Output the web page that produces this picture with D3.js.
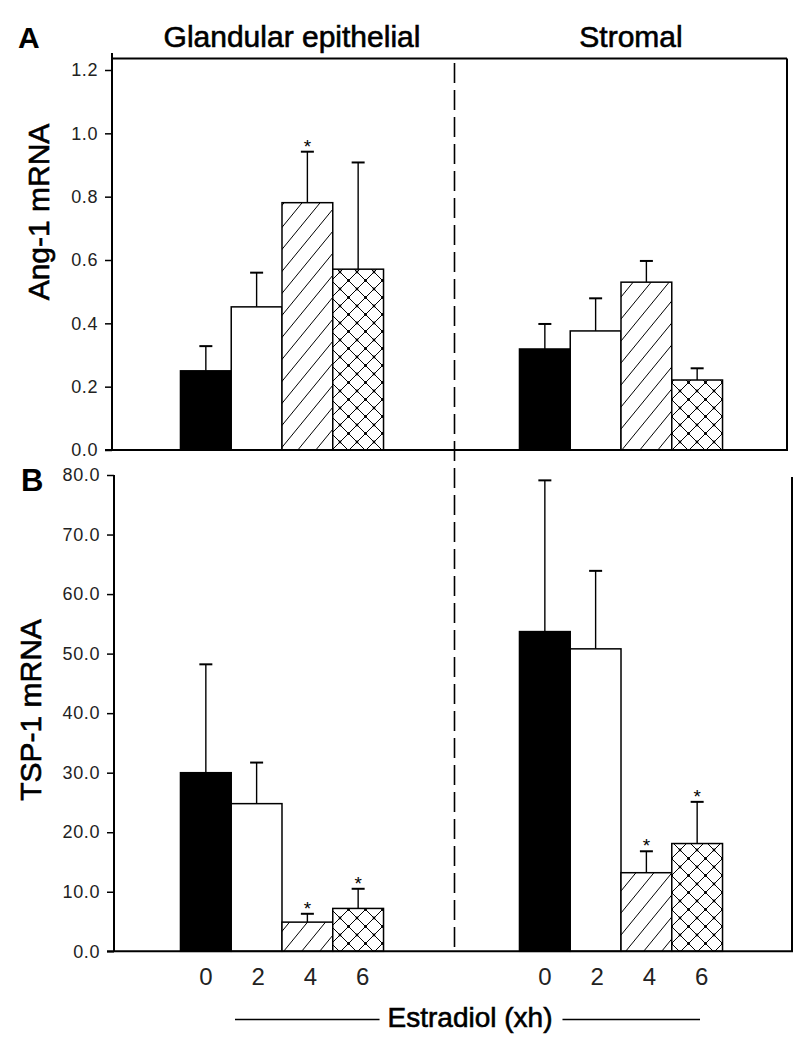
<!DOCTYPE html>
<html>
<head>
<meta charset="utf-8">
<script src="https://cdn.jsdelivr.net/npm/d3@7"></script>
<style>
  html, body { margin: 0; padding: 0; background: #fff; }
  svg { display: block; }
  text { font-family: "Liberation Sans", Arial, Helvetica, sans-serif; }
</style>
</head>
<body>
<svg id="chart" width="800" height="1050"></svg>
<script>
// ---------------- data ----------------
const groups = ["Glandular epithelial", "Stromal"];
const times = ["0", "2", "4", "6"];
const xAxisTitle = "Estradiol (xh)";

const ang1Gland     = [0.250, 0.452, 0.781, 0.571];
const ang1GlandErr  = [0.078, 0.108, 0.161, 0.337];
const ang1GlandSig  = [false, false, true, false];
const ang1Strom     = [0.319, 0.376, 0.530, 0.221];
const ang1StromErr  = [0.079, 0.103, 0.067, 0.037];
const ang1StromSig  = [false, false, false, false];

const tsp1Gland     = [30.0, 24.8, 4.9, 7.2];
const tsp1GlandErr  = [18.2, 6.9, 1.4, 3.3];
const tsp1GlandSig  = [false, false, true, true];
const tsp1Strom     = [53.7, 50.8, 13.2, 18.1];
const tsp1StromErr  = [25.4, 13.1, 3.6, 7.0];
const tsp1StromSig  = [false, false, true, true];

const ticksA = [0, 0.2, 0.4, 0.6, 0.8, 1.0, 1.2];
const ticksB = [0, 10, 20, 30, 40, 50, 60, 70, 80];

// ---------------- setup ----------------
const svg = d3.select("#chart");
const defs = svg.append("defs");

// diagonal hatch "/"
const dw = 18, dh = 22;
const pDiag = defs.append("pattern").attr("id", "diag")
  .attr("patternUnits", "userSpaceOnUse").attr("width", dw).attr("height", dh);
pDiag.append("rect").attr("width", dw).attr("height", dh).attr("fill", "#fff");
pDiag.append("path")
  .attr("d", `M0,${dh} L${dw},0 M${-dw},${dh} L0,0 M${dw},${dh} L${2*dw},0`)
  .attr("stroke", "#000").attr("stroke-width", 1);

// cross hatch with dots
const cs = 17;
const pCross = defs.append("pattern").attr("id", "cross")
  .attr("patternUnits", "userSpaceOnUse").attr("width", cs).attr("height", cs);
pCross.append("rect").attr("width", cs).attr("height", cs).attr("fill", "#fff");
pCross.append("path").attr("d", `M0,0 L${cs},${cs} M0,${cs} L${cs},0`)
  .attr("stroke", "#000").attr("stroke-width", 1);
[[cs/2, cs/2], [0, 0], [cs, 0], [0, cs], [cs, cs]].forEach(([cx, cy]) =>
  pCross.append("circle").attr("cx", cx).attr("cy", cy).attr("r", 1.4).attr("fill", "#000"));

const fills = ["#000", "#fff", "url(#diag)", "url(#cross)"];

// x scales
const xGroup = d3.scaleBand().domain(groups).range([113, 790])
  .paddingInner(0.401).paddingOuter(0.199);
const xTime = d3.scaleBand().domain(times).range([0, xGroup.bandwidth()]).padding(0);

// y scales
const yA = d3.scaleLinear().domain([0, 1.2]).range([450, 70]);
const yB = d3.scaleLinear().domain([0, 80]).range([951.3, 475]);

function drawBars(y, series) {
  series.forEach(s => {
    const g = svg.append("g");
    times.forEach((t, i) => {
      const x0 = xGroup(s.group) + xTime(t);
      const bw = xTime.bandwidth();
      const cx = x0 + bw / 2;
      const top = y(s.vals[i]);
      const etop = y(s.vals[i] + s.err[i]);
      g.append("line").attr("x1", cx).attr("x2", cx).attr("y1", top).attr("y2", etop)
        .attr("stroke", "#000").attr("stroke-width", 1.4);
      g.append("line").attr("x1", cx - 6.5).attr("x2", cx + 6.5).attr("y1", etop).attr("y2", etop)
        .attr("stroke", "#000").attr("stroke-width", 2);
      g.append("rect").attr("x", x0).attr("y", top).attr("width", bw)
        .attr("height", y(0) - top).attr("fill", fills[i])
        .attr("stroke", "#000").attr("stroke-width", 1.5);
      if (s.sig[i]) {
        g.append("text").attr("x", cx).attr("y", etop + 1).attr("text-anchor", "middle")
          .attr("font-size", 19).attr("fill", "#000").text("*");
      }
    });
  });
}

drawBars(yA, [
  { group: groups[0], vals: ang1Gland, err: ang1GlandErr, sig: ang1GlandSig },
  { group: groups[1], vals: ang1Strom, err: ang1StromErr, sig: ang1StromSig }
]);
drawBars(yB, [
  { group: groups[0], vals: tsp1Gland, err: tsp1GlandErr, sig: tsp1GlandSig },
  { group: groups[1], vals: tsp1Strom, err: tsp1StromErr, sig: tsp1StromSig }
]);

function styleAxis(g) {
  g.select(".domain").remove();
  g.selectAll(".tick line").attr("stroke", "#000").attr("stroke-width", 1.5);
  g.selectAll(".tick text").attr("font-size", 18).attr("fill", "#222")
    .attr("letter-spacing", "0.6px")
    .style("font-family", "'Liberation Sans', Arial, sans-serif");
}

// Panel A axes & frame
const axA = svg.append("g").attr("transform", "translate(112,0)")
  .call(d3.axisLeft(yA).tickValues(ticksA).tickFormat(d3.format(".1f")).tickSize(7).tickPadding(7));
styleAxis(axA);
const lineA = (x1, y1, x2, y2) => svg.append("line").attr("x1", x1).attr("y1", y1)
  .attr("x2", x2).attr("y2", y2).attr("stroke", "#000").attr("stroke-width", 2);
lineA(112, 53, 112, yA(0));
lineA(112, 58.5, 787, 58.5);
lineA(787, 58.5, 787, yA(0));
lineA(105, yA(0), 788, yA(0));

// Panel B axes & frame
const axB = svg.append("g").attr("transform", "translate(114,0)")
  .call(d3.axisLeft(yB).tickValues(ticksB).tickFormat(d3.format(".1f")).tickSize(7).tickPadding(7));
styleAxis(axB);
lineA(114, yB(80), 114, yB(0));
lineA(792, yB(80) + 2, 792, yB(0));
lineA(107, yB(0), 793, yB(0));

// dashed divider
const divX = (xGroup(groups[0]) + xGroup.bandwidth() + xGroup(groups[1])) / 2 + 3;
svg.append("line").attr("x1", divX).attr("x2", divX).attr("y1", 63).attr("y2", yB(0))
  .attr("stroke", "#000").attr("stroke-width", 1.6).attr("stroke-dasharray", "20,7");

const heavy = sel => sel.attr("fill", "#000").attr("stroke", "#000").attr("stroke-width", 0.6);

// group titles
groups.forEach(gname => {
  svg.append("text").attr("x", xGroup(gname) + xGroup.bandwidth() / 2 + 10)
    .attr("y", 47).attr("text-anchor", "middle").attr("font-size", 30)
    .call(heavy).text(gname);
});

// panel letters
svg.append("text").attr("x", 18).attr("y", 48).attr("font-size", 30)
  .attr("font-weight", "bold").text("A");
svg.append("text").attr("x", 21).attr("y", 491).attr("font-size", 31)
  .attr("font-weight", "bold").text("B");

// y titles
svg.append("text").attr("transform", "translate(49,212) rotate(-90)")
  .attr("text-anchor", "middle").attr("font-size", 30).call(heavy).text("Ang-1 mRNA");
svg.append("text").attr("transform", "translate(41,710) rotate(-90)")
  .attr("text-anchor", "middle").attr("font-size", 30).call(heavy).text("TSP-1 mRNA");

// x tick labels
groups.forEach(gname => {
  times.forEach((t, i) => {
    svg.append("text").attr("x", xGroup(gname) + xTime(t) + xTime.bandwidth() / 2 + i * 1.5)
      .attr("y", 985).attr("text-anchor", "middle").attr("font-size", 24)
      .attr("fill", "#222").text(t);
  });
});

// x title with lines
const xt = svg.append("text").attr("x", 470).attr("y", 1027).attr("text-anchor", "middle")
  .attr("font-size", 28).call(heavy).text(xAxisTitle);
const bb = xt.node().getBBox();
svg.append("line").attr("x1", 235).attr("x2", bb.x - 8).attr("y1", 1019.5).attr("y2", 1019.5)
  .attr("stroke", "#000").attr("stroke-width", 1.5);
svg.append("line").attr("x1", bb.x + bb.width + 10).attr("x2", 700).attr("y1", 1019.5).attr("y2", 1019.5)
  .attr("stroke", "#000").attr("stroke-width", 1.5);
</script>
</body>
</html>
